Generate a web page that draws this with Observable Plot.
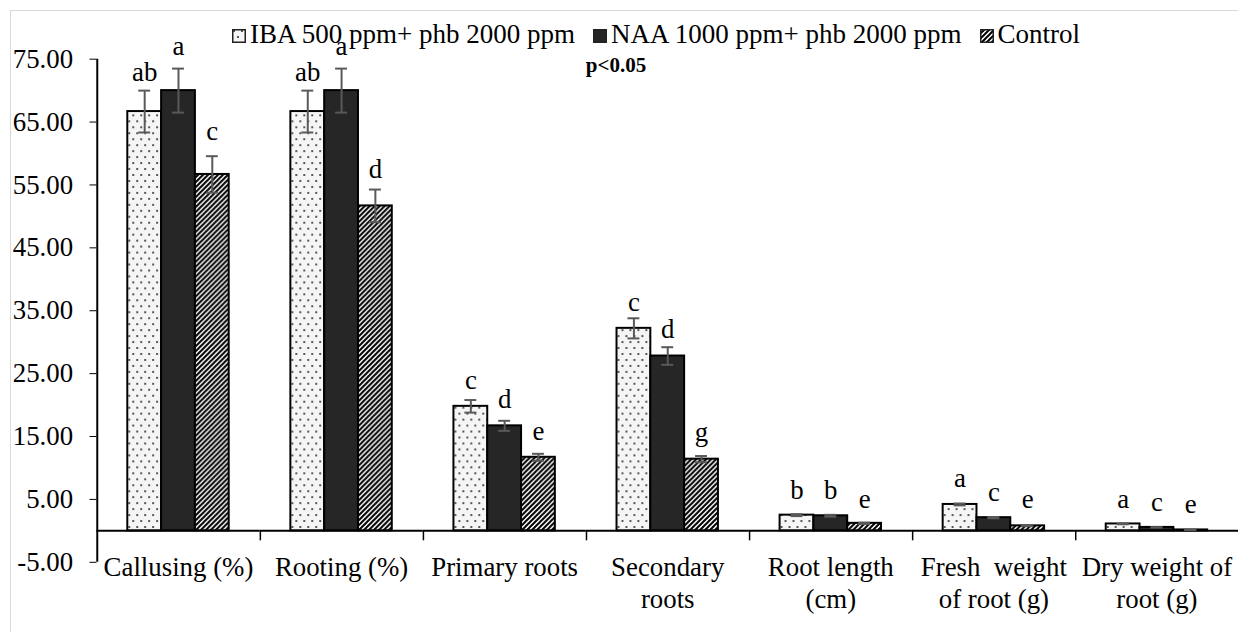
<!DOCTYPE html>
<html>
<head>
<meta charset="utf-8">
<script src="https://cdn.jsdelivr.net/npm/d3@7"></script>
<script src="https://cdn.jsdelivr.net/npm/@observablehq/plot@0.6"></script>
<style>
  html, body { margin: 0; padding: 0; background: #fff; overflow: hidden; }
  #wrap { position: relative; width: 1238px; height: 632px; overflow: hidden; font-family: "Liberation Serif", "Times New Roman", serif; }
  #border { position: absolute; left: 10px; top: 10px; width: 3000px; height: 3000px; border: 1.5px solid #d9d9d9; pointer-events: none; }
  #legend { position: absolute; left: 232px; top: 19px; font-size: 27px; line-height: 30px; white-space: nowrap; color: #000; }
  #legend .item { display: inline-block; margin-right: 18px; }
  #legend svg { vertical-align: baseline; margin-right: 4px; }
  #pval { position: absolute; left: 616px; top: 55px; transform: translateX(-50%); font-weight: bold; font-size: 21px; line-height: 21px; white-space: nowrap; }
</style>
</head>
<body>
<div id="wrap">
  <div id="chart"></div>
  <div id="border"></div>
  <div id="legend"></div>
  <div id="pval">p&lt;0.05</div>
</div>
<script>
// ---- data ----
const categories = ["Callusing (%)", "Rooting (%)", "Primary roots", "Secondary\nroots", "Root length\n(cm)", "Fresh  weight\nof root (g)", "Dry weight of\nroot (g)"];
const series = ["IBA 500 ppm+ phb 2000 ppm", "NAA 1000 ppm+ phb 2000 ppm", "Control"];

const ibaValues = [66.67, 66.67, 19.8, 32.2, 2.5, 4.2, 1.1];
const naaValues = [70.0, 70.0, 16.7, 27.8, 2.4, 2.1, 0.55];
const controlValues = [56.67, 51.67, 11.7, 11.4, 1.2, 0.8, 0.15];

const ibaErrors = [3.33, 3.33, 1.0, 1.6, 0.15, 0.15, 0.05];
const naaErrors = [3.5, 3.5, 0.8, 1.4, 0.15, 0.1, 0.03];
const controlErrors = [2.9, 2.6, 0.55, 0.5, 0.1, 0.05, 0.02];

const ibaLetters = ["ab", "ab", "c", "c", "b", "a", "a"];
const naaLetters = ["a", "a", "d", "d", "b", "c", "c"];
const controlLetters = ["c", "d", "e", "g", "e", "e", "e"];

// letter baseline positions (in axis units)
const ibaLetterY = [71.6, 71.6, 22.6, 35.0, 5.0, 6.9, 3.7];
const naaLetterY = [75.6, 75.6, 19.5, 30.6, 5.0, 4.8, 3.2];
const controlLetterY = [62.2, 56.1, 14.5, 14.25, 3.7, 3.6, 2.9];

const yTicks = [-5, 5, 15, 25, 35, 45, 55, 65, 75];
const yDomain = [-5, 75];

// ---- build table ----
const valueSets = [ibaValues, naaValues, controlValues];
const errorSets = [ibaErrors, naaErrors, controlErrors];
const letterSets = [ibaLetters, naaLetters, controlLetters];
const letterYSets = [ibaLetterY, naaLetterY, controlLetterY];
const rows = [];
categories.forEach((c, i) => {
  series.forEach((s, j) => {
    rows.push({category: c, series: s, value: valueSets[j][i], err: errorSets[j][i], letter: letterSets[j][i], letterY: letterYSets[j][i]});
  });
});

// ---- layout ----
const W = 1245, H = 632, ML = 97, MT = 59, MB = 67, MR = 0;
const PAD = 0.89;
const step = (W - ML - MR) / categories.length;
const bw = step / (series.length + 2 * PAD);
const edgeOffset = -(PAD * bw + bw / 2); // from first bar centre to group's left edge
const fills = ["url(#dots)", "#262626", "url(#hatch)"];

const chart = Plot.plot({
  width: W,
  height: H,
  marginLeft: ML,
  marginRight: MR,
  marginTop: MT,
  marginBottom: MB,
  style: {fontFamily: "'Liberation Serif', 'Times New Roman', serif", fontSize: "27px", color: "#000", background: "transparent", overflow: "visible"},
  fx: {domain: categories, padding: 0, axis: null},
  x: {domain: series, paddingInner: 0, paddingOuter: PAD, axis: null},
  y: {domain: yDomain, ticks: yTicks, tickFormat: d => d.toFixed(2), tickSize: 7, tickPadding: 17, label: null},
  color: {type: "ordinal", domain: series, range: fills},
  marks: [
    Plot.barY(rows, {fx: "category", x: "series", y: "value", fill: "series", stroke: "#000", strokeWidth: 2}),
    Plot.ruleY([0], {stroke: "#000", strokeWidth: 2}),
    // y axis line (left edge of first group)
    Plot.ruleX([categories[0]], {fx: d => d, x: () => series[0], y1: () => yDomain[0], y2: () => yDomain[1], dx: edgeOffset, stroke: "#000", strokeWidth: 2}),
    // tick marks between category groups
    Plot.ruleX(categories.slice(1), {fx: d => d, x: () => series[0], y1: () => 0, y2: () => 0, insetBottom: -10, dx: edgeOffset, stroke: "#000", strokeWidth: 1.5}),
    Plot.ruleX(rows, {fx: "category", x: "series", y1: d => d.value - d.err, y2: d => d.value + d.err, stroke: "#595959", strokeWidth: 2}),
    Plot.tickY(rows, {fx: "category", x: "series", y: d => d.value - d.err, stroke: "#595959", strokeWidth: 2, insetLeft: 11, insetRight: 11}),
    Plot.tickY(rows, {fx: "category", x: "series", y: d => d.value + d.err, stroke: "#595959", strokeWidth: 2, insetLeft: 11, insetRight: 11}),
    Plot.text(rows, {fx: "category", x: "series", y: "letterY", text: "letter", lineAnchor: "bottom", fill: "#000"}),
    Plot.text(categories, {fx: d => d, text: d => d, frameAnchor: "bottom", lineAnchor: "top", dy: -9, lineHeight: 1.185, fill: "#000"})
  ]
});

chart.insertAdjacentHTML("afterbegin", `
<defs>
  <pattern id="dots" patternUnits="userSpaceOnUse" width="8" height="12">
    <rect width="8" height="12" fill="#f5f5f5"></rect>
    <circle cx="2" cy="2" r="1" fill="#222"></circle>
    <circle cx="6" cy="8" r="1" fill="#222"></circle>
  </pattern>
  <pattern id="hatch" patternUnits="userSpaceOnUse" width="5" height="5">
    <rect width="5" height="5" fill="#fff"></rect>
    <path d="M-1,1 L1,-1 M0,5 L5,0 M4,6 L6,4" stroke="#000" stroke-width="2"></path>
  </pattern>
</defs>`);
document.getElementById("chart").appendChild(chart);

// legend from the plot's color scale
const color = chart.scale("color");
const legend = document.getElementById("legend");
series.forEach((s) => {
  const item = document.createElement("span");
  item.className = "item";
  const fill = color.range[color.domain.indexOf(s)];
  item.innerHTML = `<svg width="14" height="14"><rect x="0.75" y="0.75" width="12.5" height="12.5" fill="${fill}" stroke="#222" stroke-width="1.5"></rect></svg>`;
  item.appendChild(document.createTextNode(s));
  legend.appendChild(item);
});
</script>
</body>
</html>
